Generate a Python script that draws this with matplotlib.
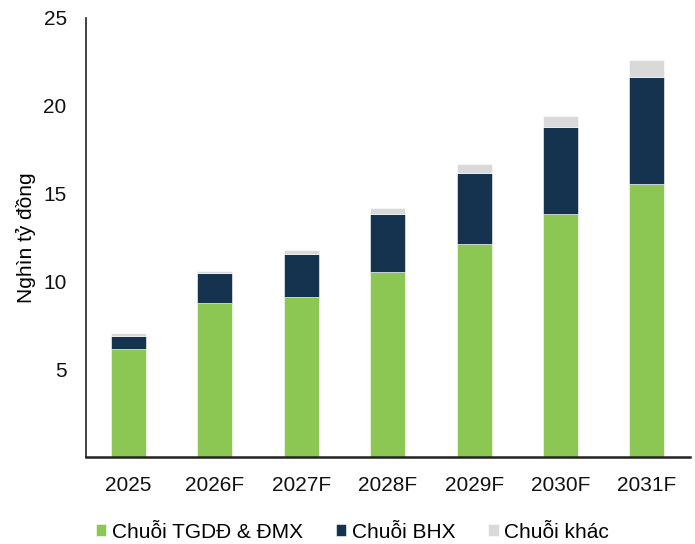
import matplotlib.pyplot as plt
import numpy as np

plt.rcParams['font.family'] = ['Liberation Sans', 'DejaVu Sans']

years = ['2025', '2026F', '2027F', '2028F', '2029F', '2030F', '2031F']
tgdd_dmx = [6.13, 8.77, 9.09, 10.54, 12.11, 13.82, 15.55]
bhx = [0.78, 1.71, 2.49, 3.30, 4.08, 4.97, 6.09]
khac = [0.15, 0.13, 0.21, 0.32, 0.48, 0.63, 0.97]

GREEN = '#8dc753'
NAVY = '#15324f'
GREY = '#d9d9d9'

fig = plt.figure(figsize=(6.95, 5.44), dpi=100)
ax = fig.add_axes([0.124, 0.160, 0.869, 0.807])

x = np.arange(len(years))
w = 0.405
b1 = np.array(tgdd_dmx)
b2 = b1 + np.array(bhx)
ax.bar(x, tgdd_dmx, w, color=GREEN, label='Chuỗi TGDĐ & ĐMX', edgecolor='white', linewidth=0.4)
ax.bar(x, bhx, w, bottom=b1, color=NAVY, label='Chuỗi BHX', edgecolor='white', linewidth=0.4)
ax.bar(x, khac, w, bottom=b2, color=GREY, label='Chuỗi khác', edgecolor='white', linewidth=0.4)

ax.set_xlim(-0.49, 6.5)
ax.set_ylim(0, 25)
ax.set_yticks([5, 10, 15, 20, 25])
ax.set_xticks(x)
ax.set_xticklabels(years)
ax.tick_params(axis='both', length=0, labelsize=15, colors='#111111')
ax.tick_params(axis='y', pad=14)
ax.tick_params(axis='x', pad=14)

for s in ['top', 'right']:
    ax.spines[s].set_visible(False)
ax.spines['left'].set_linewidth(1.2)
ax.spines['bottom'].set_linewidth(1.8)
ax.spines['left'].set_color('#222222')
ax.spines['bottom'].set_color('#222222')

ax.set_ylabel('Nghìn tỷ đồng', fontsize=15, labelpad=5)

fig.legend(loc='center', bbox_to_anchor=(0.507, 0.022), ncol=3, frameon=False,
           fontsize=15, handlelength=0.5, handleheight=0.5, handletextpad=0.25,
           columnspacing=1.6)

fig.savefig('out.png', dpi=100, facecolor='white')
